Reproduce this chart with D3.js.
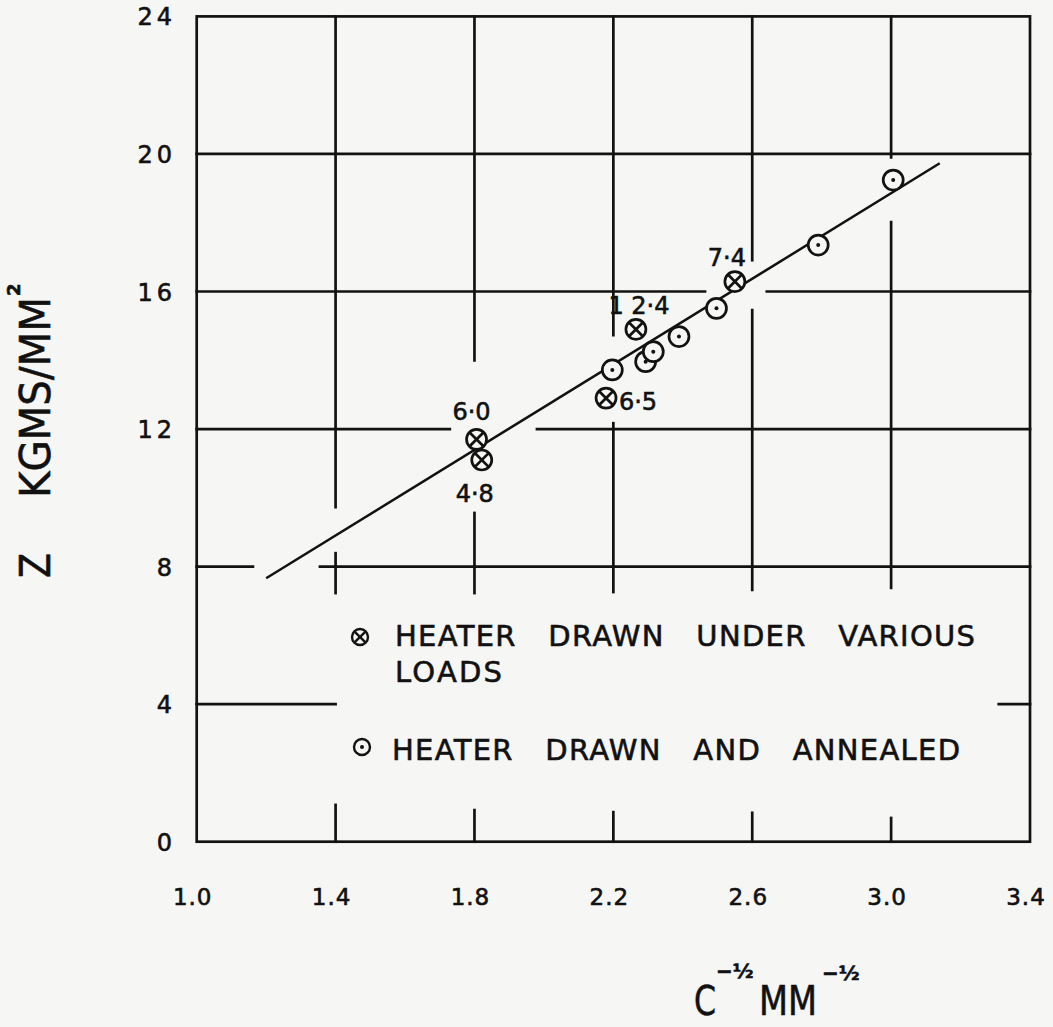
<!DOCTYPE html>
<meta charset="utf-8">

<style type="text/css">
	body {
		margin: 0;
		background: #f6f6f5;
	}
	svg {
		display: block;
	}
	text {
		font-family: "DejaVu Sans", sans-serif;
		fill: #111;
		stroke: #111;
		stroke-width: 0.6px;
	}
</style>

<body>

</body>

<script src="https://cdnjs.cloudflare.com/ajax/libs/d3/7.8.5/d3.min.js"></script>

<script>

	// tick values
	var xTicks = [1.0, 1.4, 1.8, 2.2, 2.6, 3.0, 3.4];
	var yTicks = [0, 4, 8, 12, 16, 20, 24];
	var xTickLabels = ["1.0", "1.4", "1.8", "2.2", "2.6", "3.0", "3.4"];
	var yTickLabels = ["0", "4", "8", "12", "16", "20", "24"];

	// heater drawn under various loads (crossed circles)
	var loadX = [1.806, 1.821, 2.265, 2.179, 2.550];
	var loadY = [11.70, 11.10, 14.90, 12.90, 16.29];
	var loadLabels = ["6·0", "4·8", "1 2·4", "6·5", "7·4"];

	// heater drawn and annealed (dotted circles)
	var annealX = [2.197, 2.293, 2.315, 2.389, 2.497, 2.790, 3.006];
	var annealY = [13.72, 13.96, 14.25, 14.69, 15.51, 17.35, 19.24];

	// fitted straight line
	var fitX = [1.20, 3.14];
	var fitY = [7.66, 19.73];

	// the hand drawn grid is broken around labels and marks (data units)
	var vGridX = [1.4, 1.8, 2.2, 2.6, 3.0];
	var vGridRuns = [
		[[0, 1.07], [7.23, 8.39], [9.73, 24]],
		[[0, 0.92], [7.23, 9.56], [14.0, 24]],
		[[0, 0.86], [7.26, 12.17], [14.73, 24]],
		[[0, 0.84], [7.32, 15.46], [16.91, 24]],
		[[0, 0.69], [7.38, 18.02], [19.9, 24]]
	];
	var hGridY = [4, 8, 12, 16, 20];
	var hGridRuns = [
		[[1.0, 1.4], [3.31, 3.4]],
		[[1.0, 1.162], [1.355, 3.4]],
		[[1.0, 1.729], [1.98, 3.4]],
		[[1.0, 2.464], [2.642, 3.4]],
		[[1.0, 3.4]]
	];

	// label offsets from their mark, px
	var loadLabelDx = [-5, -7, 3, 32, -8];
	var loadLabelDy = [-19, 42, -15, 12, -16];

	var width = 1053, height = 1027;
	var margin = {top: 16.4, right: 23, bottom: 185.3, left: 196.7};

	var svg = d3.select("body").append("svg")
		.attr("width", width)
		.attr("height", height);

	svg.append("rect")
		.attr("width", width)
		.attr("height", height)
		.attr("fill", "#f6f6f5");

	var xScale = d3.scaleLinear()
		.domain([1.0, 3.4])
		.range([margin.left, width - margin.right]);

	var yScale = d3.scaleLinear()
		.domain([0, 24])
		.range([height - margin.bottom, margin.top]);

	var ink = "#121212";
	var g = svg.append("g")
		.attr("stroke", ink)
		.attr("stroke-width", 2.7)
		.attr("stroke-linecap", "square")
		.attr("fill", "none");

	// frame
	g.append("rect")
		.attr("x", xScale(1.0))
		.attr("y", yScale(24))
		.attr("width", xScale(3.4) - xScale(1.0))
		.attr("height", yScale(0) - yScale(24));

	// vertical grid
	vGridX.forEach(function(v, i) {
		g.selectAll(null)
			.data(vGridRuns[i])
			.enter()
			.append("line")
			.attr("x1", xScale(v))
			.attr("x2", xScale(v))
			.attr("y1", function(d) { return yScale(d[0]); })
			.attr("y2", function(d) { return yScale(d[1]); });
	});

	// horizontal grid
	hGridY.forEach(function(v, i) {
		g.selectAll(null)
			.data(hGridRuns[i])
			.enter()
			.append("line")
			.attr("y1", yScale(v))
			.attr("y2", yScale(v))
			.attr("x1", function(d) { return xScale(d[0]); })
			.attr("x2", function(d) { return xScale(d[1]); });
	});

	// tick labels
	svg.selectAll(".xlab")
		.data(xTicks)
		.enter()
		.append("text")
		.attr("class", "xlab")
		.attr("x", function(d) { return xScale(d) - 4; })
		.attr("y", 905)
		.attr("text-anchor", "middle")
		.attr("font-size", "23px")
		.attr("letter-spacing", "1px")
		.text(function(d, i) { return xTickLabels[i]; });

	svg.selectAll(".ylab")
		.data(yTicks)
		.enter()
		.append("text")
		.attr("class", "ylab")
		.attr("x", 176)
		.attr("y", function(d) { return yScale(d) + 9; })
		.attr("text-anchor", "end")
		.attr("font-size", "24px")
		.attr("letter-spacing", "4px")
		.text(function(d, i) { return yTickLabels[i]; });

	// fitted line
	var line = d3.line()
		.x(function(d) { return xScale(d[0]); })
		.y(function(d) { return yScale(d[1]); });

	g.append("path")
		.attr("d", line(d3.zip(fitX, fitY)))
		.attr("stroke-width", 2.5)
		.attr("stroke-linecap", "butt");

	function crossMark(sel, r) {
		var k = r * 0.62;
		sel.append("circle").attr("r", r).attr("fill", "#f6f6f5");
		sel.append("line").attr("x1", -k).attr("y1", -k).attr("x2", k).attr("y2", k);
		sel.append("line").attr("x1", -k).attr("y1", k).attr("x2", k).attr("y2", -k);
	}

	function dotMark(sel, r) {
		sel.append("circle").attr("r", r).attr("fill", "#f6f6f5");
		sel.append("circle").attr("r", 2).attr("fill", ink).attr("stroke", "none");
	}

	// annealed points
	g.selectAll(".ann")
		.data(d3.zip(annealX, annealY))
		.enter()
		.append("g")
		.attr("class", "ann")
		.attr("transform", function(d) { return "translate(" + xScale(d[0]) + "," + yScale(d[1]) + ")"; })
		.call(dotMark, 10);

	// loaded points
	g.selectAll(".load")
		.data(d3.zip(loadX, loadY))
		.enter()
		.append("g")
		.attr("class", "load")
		.attr("transform", function(d) { return "translate(" + xScale(d[0]) + "," + yScale(d[1]) + ")"; })
		.call(crossMark, 10);

	svg.selectAll(".loadlab")
		.data(d3.zip(loadX, loadY))
		.enter()
		.append("text")
		.attr("class", "loadlab")
		.attr("x", function(d, i) { return xScale(d[0]) + loadLabelDx[i]; })
		.attr("y", function(d, i) { return yScale(d[1]) + loadLabelDy[i]; })
		.attr("text-anchor", "middle")
		.attr("font-size", "24px")
		.text(function(d, i) { return loadLabels[i]; });

	// legend
	var legend = svg.append("g")
		.attr("stroke", ink)
		.attr("stroke-width", 2.4)
		.attr("fill", "none");

	legend.append("g")
		.attr("transform", "translate(360,637)")
		.call(crossMark, 8);
	legend.append("g")
		.attr("transform", "translate(362,747)")
		.call(dotMark, 8);

	var legendRows = [
		{x: 395, y: 646, words: ["HEATER", "DRAWN", "UNDER", "VARIOUS"], len: 580},
		{x: 395, y: 682, words: ["LOADS"], len: 107},
		{x: 392, y: 760, words: ["HEATER", "DRAWN", "AND", "ANNEALED"], len: 568}
	];

	svg.selectAll(".leg")
		.data(legendRows)
		.enter()
		.append("text")
		.attr("class", "leg")
		.attr("x", function(d) { return d.x; })
		.attr("y", function(d) { return d.y; })
		.attr("font-size", "29px")
		.attr("textLength", function(d) { return d.len; })
		.attr("lengthAdjust", "spacing")
		.style("white-space", "pre")
		.text(function(d) { return d.words.join("   "); });

	// y axis title
	var yt = svg.append("g")
		.attr("transform", "translate(50,0) rotate(-90)");
	yt.append("text")
		.attr("x", -578)
		.attr("y", 0)
		.attr("font-size", "43px")
		.attr("textLength", 25)
		.attr("lengthAdjust", "spacingAndGlyphs")
		.text("Z");
	yt.append("text")
		.attr("x", -498)
		.attr("y", 0)
		.attr("font-size", "43px")
		.attr("textLength", 201)
		.attr("lengthAdjust", "spacingAndGlyphs")
		.text("KGMS/MM");
	yt.append("text")
		.attr("x", -296)
		.attr("y", -30)
		.attr("font-size", "18px")
		.attr("font-weight", "bold")
		.text("2");

	// x axis title
	svg.append("text")
		.attr("x", 694)
		.attr("y", 1015)
		.attr("font-size", "40px")
		.attr("textLength", 22)
		.attr("lengthAdjust", "spacingAndGlyphs")
		.text("C");
	svg.append("text")
		.attr("x", 759)
		.attr("y", 1015)
		.attr("font-size", "40px")
		.attr("textLength", 58)
		.attr("lengthAdjust", "spacingAndGlyphs")
		.text("MM");
	svg.append("text")
		.attr("x", 716)
		.attr("y", 978)
		.attr("font-size", "20px")
		.attr("font-weight", "bold")
		.text("−½");
	svg.append("text")
		.attr("x", 822)
		.attr("y", 980)
		.attr("font-size", "20px")
		.attr("font-weight", "bold")
		.text("−½");

</script>
